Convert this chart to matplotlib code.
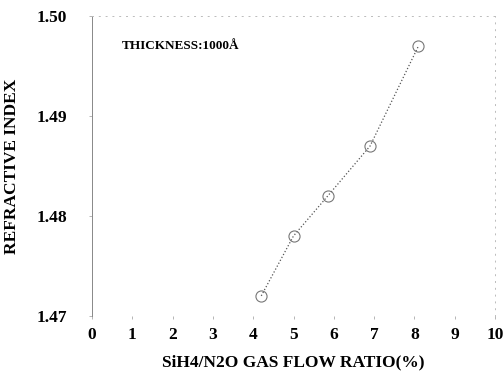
import matplotlib; matplotlib.use('Agg')
import matplotlib.pyplot as plt

ratio = [4.2, 5.0, 5.85, 6.9, 8.1]
n_index = [1.472, 1.478, 1.482, 1.487, 1.497]
xticks = list(range(0, 11))
yticks = [1.47, 1.48, 1.49, 1.50]

plt.rcParams['font.family'] = ['Liberation Serif', 'DejaVu Serif']
plt.rcParams['font.weight'] = 'bold'

fig = plt.figure(figsize=(5.03, 3.76), dpi=100)
ax = fig.add_axes([0.183, 0.16, 0.801, 0.797])

ax.plot(ratio, n_index, linestyle=':', color='#555555', linewidth=0.9,
        marker='o', markersize=8, markerfacecolor='none',
        markeredgecolor='#777777', markeredgewidth=0.8)

ax.set_xlim(0, 10)
ax.set_ylim(1.47, 1.50)
ax.set_xticks(xticks)
ax.set_yticks(yticks)
ax.set_yticklabels([f'{v:.2f}' for v in yticks])
ax.tick_params(axis='both', labelsize=12.5, length=2, color='#aaaaaa', width=0.6)
ax.tick_params(axis='x', pad=6)
ax.tick_params(axis='y', pad=16)

ax.spines['left'].set_color('#888888')
ax.spines['left'].set_linewidth(0.7)
for s in ['top', 'right']:
    ax.spines[s].set_color('#bbbbbb')
    ax.spines[s].set_linestyle((0, (1, 6)))
    ax.spines[s].set_linewidth(0.7)
ax.spines['bottom'].set_visible(False)

ax.text(0.075, 0.9, 'THICKNESS:1000Å', transform=ax.transAxes,
        fontsize=9.5, fontweight='bold', va='center', ha='left')

ax.set_xlabel('SiH4/N2O GAS FLOW RATIO(%)', fontsize=12.5, fontweight='bold', labelpad=8)
ax.set_ylabel('REFRACTIVE INDEX', fontsize=12.5, fontweight='bold', labelpad=12)

plt.savefig('out.png', dpi=100, facecolor='white')
